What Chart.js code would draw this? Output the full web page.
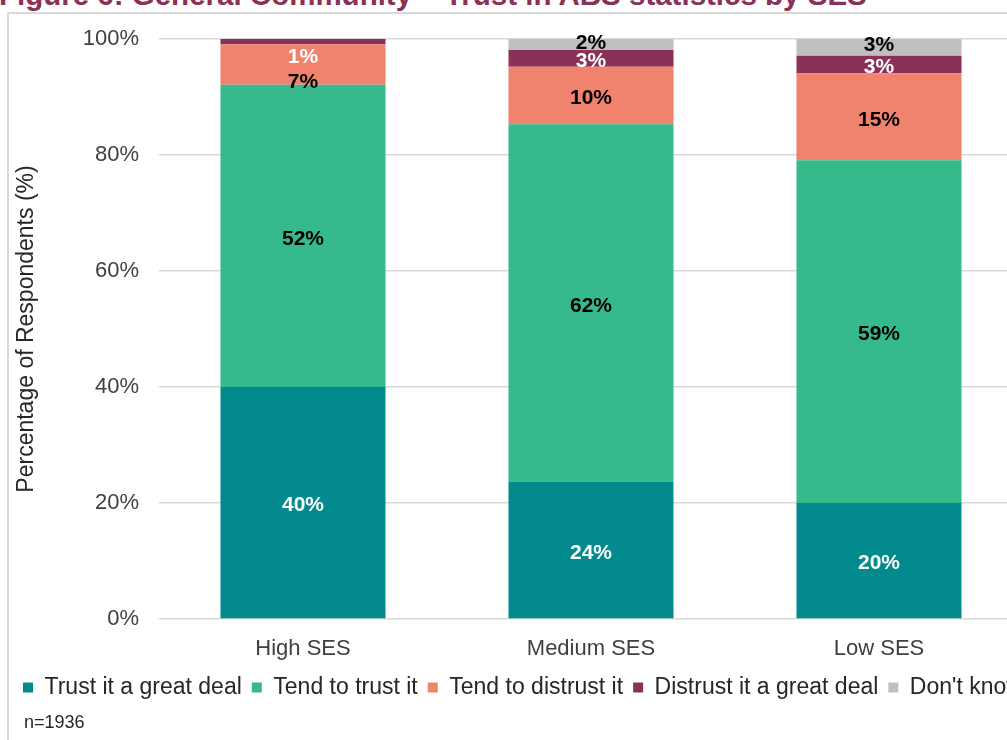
<!DOCTYPE html>
<html>
<head>
<meta charset="utf-8">
<script src="https://cdn.jsdelivr.net/npm/chart.js@4/dist/chart.umd.min.js"></script>
<style>
  html, body { margin: 0; padding: 0; width: 1007px; height: 740px; overflow: hidden; background: #fff; }
  #title { position: absolute; left: -1px; top: -20px; font: bold 29.5px/29px "Liberation Sans", Arial, sans-serif; color: #8b3158; white-space: nowrap; }
  #frame { position: absolute; left: 7px; top: 12px; width: 1100px; height: 800px; border-left: 2px solid #d9d9d9; border-top: 2px solid #d9d9d9; }
  #wrap { position: absolute; left: 0; top: 0; width: 1060px; height: 740px; }
  #note { position: absolute; left: 24px; top: 712px; font: 18px "Liberation Sans", Arial, sans-serif; color: #262626; }
</style>
</head>
<body>
<div id="title">Figure 6: General Community – Trust in ABS statistics by SES</div>
<div id="frame"></div>
<div id="wrap"><canvas id="chart" width="1060" height="740"></canvas></div>
<div id="note">n=1936</div>
<script>
// categories and values (% of respondents)
const categories = ["High SES", "Medium SES", "Low SES"];
const seriesNames = ["Trust it a great deal", "Tend to trust it", "Tend to distrust it", "Distrust it a great deal", "Don't know"];
const trustGreatDeal = [40.0, 23.7, 20.0];
const tendToTrust = [52.1, 61.6, 59.1];
const tendToDistrust = [7.0, 9.9, 15.0];
const distrustGreatDeal = [0.9, 2.9, 3.0];
const dontKnow = [0, 1.9, 2.9];
const yTicks = [0, 20, 40, 60, 80, 100];

const colours = ["#028a8c", "#36b98b", "#f0826e", "#8b3158", "#bfbfbf"];
const labelColours = ["#ffffff", "#000000", "#000000", "#ffffff", "#000000"];
// small manual shifts of the value labels (px), like the moved labels in the original
const labelNudge = [[0, 0, 0], [0, 0, 0], [15, 0, 0], [13, 0, 0], [0, -4, -5]];

const seriesData = [trustGreatDeal, tendToTrust, tendToDistrust, distrustGreatDeal, dontKnow];

const barLabels = {
  id: "barLabels",
  afterDatasetsDraw(chart) {
    const ctx = chart.ctx;
    ctx.save();
    ctx.font = 'bold 21px "Liberation Sans Narrow", "Arial Narrow", "Liberation Sans", sans-serif';
    ctx.textAlign = "center";
    ctx.textBaseline = "middle";
    chart.data.datasets.forEach((ds, i) => {
      const meta = chart.getDatasetMeta(i);
      meta.data.forEach((bar, j) => {
        const v = ds.data[j];
        if (!v) return;
        ctx.fillStyle = labelColours[i];
        ctx.fillText(Math.round(v) + "%", bar.x, (bar.y + bar.base) / 2 + 3 + labelNudge[i][j]);
      });
    });
    ctx.restore();
  },
};

const font = { family: '"Liberation Sans", Arial, sans-serif', size: 22 };

new Chart(document.getElementById("chart").getContext("2d"), {
  type: "bar",
  data: {
    labels: categories,
    datasets: seriesData.map((d, i) => ({
      label: seriesNames[i],
      data: d,
      backgroundColor: colours[i],
      borderWidth: 0,
      categoryPercentage: 1,
      barPercentage: 0.573,
    })),
  },
  options: {
    responsive: false,
    animation: false,
    devicePixelRatio: 1,
    layout: { padding: { left: 13, top: 39, right: 0, bottom: 31 } },
    scales: {
      x: {
        stacked: true,
        grid: { display: false },
        border: { display: false },
        ticks: { font, color: "#404040", padding: 9 },
        afterFit: (s) => { s.height = 47; },
      },
      y: {
        stacked: true,
        min: 0,
        max: 100,
        afterBuildTicks: (s) => { s.ticks = yTicks.map((v) => ({ value: v })); },
        grid: { color: "#d9d9d9", lineWidth: 1.5, drawTicks: false },
        border: { display: false },
        ticks: { font, color: "#404040", padding: 20, callback: (v) => v + "%" },
        title: { display: true, text: "Percentage of Respondents (%)", font: { family: font.family, size: 23 }, color: "#262626", padding: { top: 0, bottom: 0 } },
        afterFit: (s) => { s.width = 146; },
      },
      yRight: {
        position: "right",
        display: true,
        grid: { display: false },
        border: { display: false },
        ticks: { display: false },
        afterFit: (s) => { s.width = 37; },
      },
    },
    plugins: {
      legend: {
        position: "bottom",
        align: "start",
        labels: { font: { family: font.family, size: 23 }, color: "#262626", boxWidth: 10, boxHeight: 10, padding: 10 },
      },
      tooltip: { enabled: false },
    },
  },
  plugins: [barLabels],
});
</script>
</body>
</html>
